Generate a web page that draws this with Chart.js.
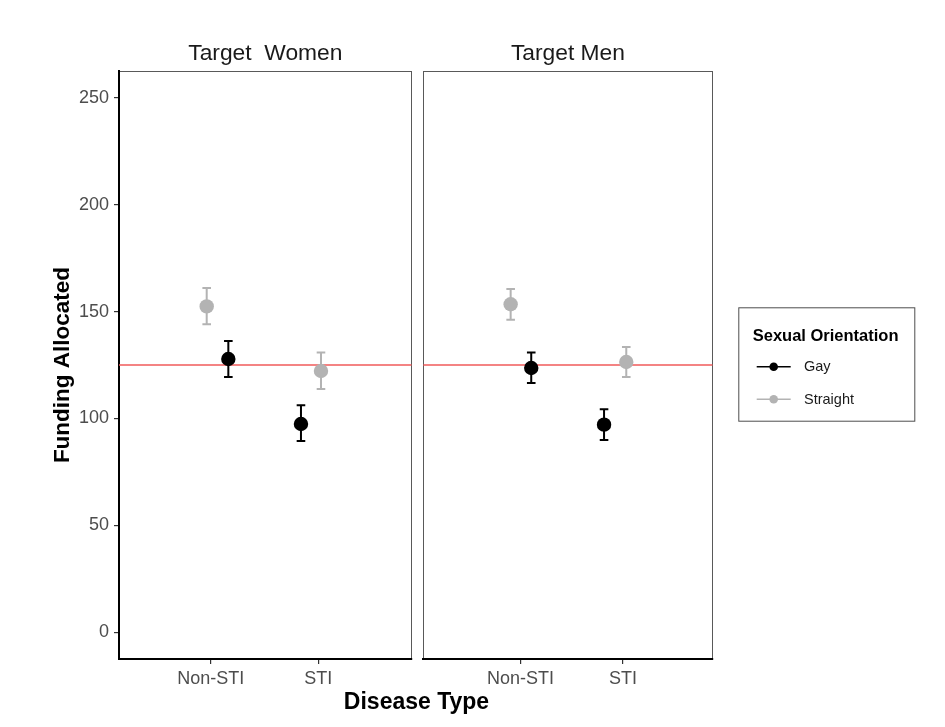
<!DOCTYPE html>
<html><head><meta charset="utf-8">
<script src="https://cdn.jsdelivr.net/npm/chart.js@4.4.1/dist/chart.umd.min.js"></script>
<style>
html,body{margin:0;padding:0;background:#fff;}
#wrap{position:relative;width:945px;height:727px;overflow:hidden;background:#fff;}
canvas{position:absolute;top:0;}
#c1{left:0;} #c2{left:416px;}
</style></head><body>
<div id="wrap"><canvas id="c1" width="945" height="727"></canvas><canvas id="c2" width="529" height="727"></canvas></div>
<script>
// ---- data ----
const categories = ['Non-STI', 'STI'];
const panelTitles = ['Target  Women', 'Target Men'];
const seriesNames = ['Gay', 'Straight'];
const yTickValues = [0, 50, 100, 150, 200, 250];
const referenceValue = 125;
const xAxisTitle = 'Disease Type';
const yAxisTitle = 'Funding Allocated';
const legendTitle = 'Sexual Orientation';

// dodged category positions (1 = Non-STI, 2 = STI)
const womenGayX = [1.164, 1.839];
const womenGayMean = [127.8, 97.4];
const womenGayLow = [119.4, 89.4];
const womenGayHigh = [136.2, 106.2];
const womenStraightX = [0.963, 2.025];
const womenStraightMean = [152.4, 122.2];
const womenStraightLow = [144.0, 113.8];
const womenStraightHigh = [161.0, 130.9];

const menGayX = [1.104, 1.815];
const menGayMean = [123.6, 97.1];
const menGayLow = [116.6, 89.9];
const menGayHigh = [130.8, 104.3];
const menStraightX = [0.903, 2.032];
const menStraightMean = [153.4, 126.4];
const menStraightLow = [146.2, 119.4];
const menStraightHigh = [160.6, 133.4];

// ---- styling ----
const FONT = "'Liberation Sans', Arial, Helvetica, sans-serif";
Chart.defaults.font.family = FONT;
const GAY_COLOR = '#000000';
const STRAIGHT_COLOR = '#b3b3b3';
const REF_COLOR = '#f15a5a';
const Y_MIN = -12.5, Y_MAX = 262.5;

function pts(xs, mean, lo, hi) {
  return xs.map((x, i) => ({ x: x, y: mean[i], low: lo[i], high: hi[i] }));
}

function drawErrorBars(chart) {
  const ctx = chart.ctx, xs = chart.scales.x, ys = chart.scales.y;
  chart.data.datasets.forEach(ds => {
    if (!ds.errorBars) return;
    ctx.save();
    ctx.strokeStyle = ds.borderColor;
    ctx.lineWidth = 2;
    ctx.lineCap = 'butt';
    ds.data.forEach(p => {
      const px = xs.getPixelForValue(p.x);
      const yl = ys.getPixelForValue(p.low);
      const yh = ys.getPixelForValue(p.high);
      const cw = 4.3;
      ctx.beginPath();
      ctx.moveTo(px, yl); ctx.lineTo(px, yh);
      ctx.moveTo(px - cw, yl); ctx.lineTo(px + cw, yl);
      ctx.moveTo(px - cw, yh); ctx.lineTo(px + cw, yh);
      ctx.stroke();
    });
    ctx.restore();
  });
}

const panelPlugin = {
  id: 'panelPlugin',
  beforeDraw(chart) {
    const ca = chart.chartArea, ctx = chart.ctx;
    ctx.save();
    ctx.strokeStyle = '#595959';
    ctx.lineWidth = 1;
    ctx.strokeRect(Math.round(ca.left) + 0.5, Math.round(ca.top) + 0.5,
      Math.round(ca.right - ca.left) - 1, Math.round(ca.bottom - ca.top));
    ctx.restore();
  },
  afterDatasetDraw(chart, args) {
    const ds = chart.data.datasets[args.index];
    if (ds.isReference) drawErrorBars(chart);
  },
  afterDraw(chart) {
    const ca = chart.chartArea, ctx = chart.ctx;
    const o = chart.options.plugins.panelPlugin || {};
    ctx.save();
    ctx.fillStyle = '#1a1a1a';
    ctx.font = '22.8px ' + FONT;
    ctx.textAlign = 'center';
    ctx.textBaseline = 'alphabetic';
    ctx.fillText(o.title, (ca.left + ca.right) / 2, 60);
    if (o.xTitle) {
      ctx.fillStyle = '#000';
      ctx.font = 'bold 23px ' + FONT;
      ctx.fillText(o.xTitle, o.xTitleX, 709);
    }
    if (o.legend) {
      const L = o.legend;
      ctx.strokeStyle = '#4d4d4d';
      ctx.lineWidth = 1;
      ctx.strokeRect(L.left + 0.5, L.top + 0.5, L.width, L.height);
      ctx.textAlign = 'left';
      ctx.fillStyle = '#000';
      ctx.font = 'bold 16.5px ' + FONT;
      ctx.fillText(legendTitle, L.left + 14.4, L.top + 33.2);
      const items = chart.data.datasets.filter(d => d.errorBars);
      items.forEach((d, i) => {
        const y = L.top + 59.4 + i * 32.6;
        const x0 = L.left + 18.4;
        ctx.strokeStyle = d.borderColor;
        ctx.lineWidth = 1.5;
        ctx.beginPath(); ctx.moveTo(x0, y); ctx.lineTo(x0 + 34, y); ctx.stroke();
        ctx.fillStyle = d.backgroundColor;
        ctx.beginPath(); ctx.arc(x0 + 17, y, 4.3, 0, Math.PI * 2); ctx.fill();
        ctx.fillStyle = '#1a1a1a';
        ctx.font = '14.5px ' + FONT;
        ctx.textBaseline = 'middle';
        ctx.fillText(d.label, L.left + 65.7, y + 0.5);
        ctx.textBaseline = 'alphabetic';
      });
    }
    ctx.restore();
  }
};

function makeChart(canvasId, cfg) {
  const datasets = [
    { label: seriesNames[0], data: pts(cfg.gayX, cfg.gayMean, cfg.gayLow, cfg.gayHigh),
      backgroundColor: GAY_COLOR, borderColor: GAY_COLOR, pointRadius: 7.2, pointBorderWidth: 0,
      pointHoverRadius: 7.2, order: 1, errorBars: true },
    { label: seriesNames[1], data: pts(cfg.straightX, cfg.straightMean, cfg.straightLow, cfg.straightHigh),
      backgroundColor: STRAIGHT_COLOR, borderColor: STRAIGHT_COLOR, pointRadius: 7.2, pointBorderWidth: 0,
      pointHoverRadius: 7.2, order: 2, errorBars: true },
    { type: 'line', label: 'reference', isReference: true,
      data: [{ x: cfg.xMin, y: referenceValue }, { x: cfg.xMax, y: referenceValue }],
      borderColor: REF_COLOR, borderWidth: 1.5, pointRadius: 0, fill: false, order: 3 }
  ];
  const tickGrid = { display: true, drawOnChartArea: false, drawTicks: true, tickLength: 5, color: '#333333', lineWidth: 1.2 };
  return new Chart(document.getElementById(canvasId), {
    type: 'scatter',
    data: { datasets },
    plugins: [panelPlugin],
    options: {
      responsive: false, animation: false, devicePixelRatio: 1,
      layout: { padding: cfg.padding },
      plugins: {
        legend: { display: false }, tooltip: { enabled: false },
        panelPlugin: { title: cfg.title, xTitle: cfg.xTitle, xTitleX: cfg.xTitleX, legend: cfg.legend }
      },
      scales: {
        x: {
          type: 'linear', min: cfg.xMin, max: cfg.xMax, bounds: 'data',
          afterBuildTicks: s => { s.ticks = categories.map((c, i) => ({ value: i + 1 })); },
          afterFit: s => { s.height = 68; },
          grid: tickGrid,
          border: { display: true, color: '#000', width: 2 },
          ticks: { callback: (v, i) => categories[i], color: '#4d4d4d', font: { size: 18 }, padding: 4,
                   maxRotation: 0, autoSkip: false }
        },
        y: {
          type: 'linear', min: Y_MIN, max: Y_MAX, bounds: 'data', display: cfg.showY,
          afterBuildTicks: s => { s.ticks = yTickValues.map(v => ({ value: v })); },
          afterFit: s => { s.width = cfg.showY ? 119 : 0; },
          grid: tickGrid,
          border: { display: true, color: '#000', width: 2 },
          ticks: { color: '#4d4d4d', font: { size: 18 }, padding: 5, autoSkip: false },
          title: { display: true, text: yAxisTitle, color: '#000', font: { size: 22.5, weight: 'bold' },
                   padding: { top: 49.4, bottom: 0 } }
        }
      }
    }
  });
}

makeChart('c1', {
  title: panelTitles[0], showY: true, xMin: 0.148, xMax: 2.868,
  padding: { left: 0, top: 71, right: 533.3, bottom: 0 },
  xTitle: xAxisTitle, xTitleX: 416.5,
  gayX: womenGayX, gayMean: womenGayMean, gayLow: womenGayLow, gayHigh: womenGayHigh,
  straightX: womenStraightX, straightMean: womenStraightMean, straightLow: womenStraightLow, straightHigh: womenStraightHigh
});
makeChart('c2', {
  title: panelTitles[1], showY: false, xMin: 0.049, xMax: 2.876,
  padding: { left: 6.3, top: 71, right: 232.3, bottom: 0 },
  legend: { left: 322.3, top: 307.3, width: 176, height: 113.4 },
  gayX: menGayX, gayMean: menGayMean, gayLow: menGayLow, gayHigh: menGayHigh,
  straightX: menStraightX, straightMean: menStraightMean, straightLow: menStraightLow, straightHigh: menStraightHigh
});
</script>
</body></html>
